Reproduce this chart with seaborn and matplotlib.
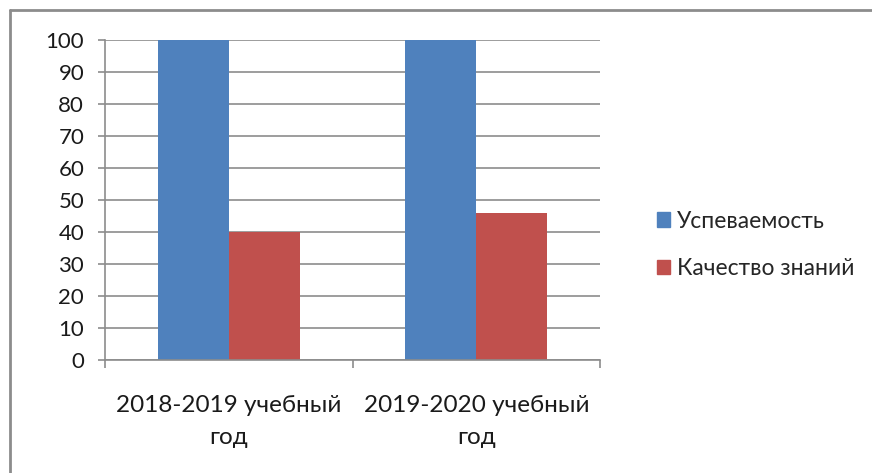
import pandas as pd
import numpy as np
import matplotlib.pyplot as plt
import seaborn as sns

# data
years = ["2018-2019 учебный\nгод", "2019-2020 учебный\nгод"]
uspev = [100, 100]
kachestvo = [40, 46]
series = ["Успеваемость", "Качество знаний"]
colors = ["#4F81BD", "#C0504D"]

df = pd.DataFrame({
    "year": years * 2,
    "value": uspev + kachestvo,
    "series": [series[0]] * 2 + [series[1]] * 2,
})

sns.set_style("white")
plt.rcParams['font.family'] = ['Lato', 'DejaVu Sans']

fig = plt.figure(figsize=(8.72, 4.73), dpi=100)
ax = fig.add_axes([105 / 872, 1 - 360 / 473, 495 / 872, 320 / 473])

sns.barplot(data=df, x="year", y="value", hue="series", palette=colors,
            width=0.575, saturation=1, ax=ax, edgecolor="none", legend=False)

ax.set_xlim(-0.5, 1.5)
ax.set_ylim(0, 100)
ax.set_yticks(np.arange(0, 101, 10))
ax.yaxis.grid(True, color="#8c8c8c", linewidth=1.2)
ax.set_axisbelow(True)
ax.set_xlabel("")
ax.set_ylabel("")

for s in ["top", "right"]:
    ax.spines[s].set_visible(False)
for s in ["left", "bottom"]:
    ax.spines[s].set_color("#8c8c8c")
    ax.spines[s].set_linewidth(1.2)

ax.tick_params(axis="y", labelsize=16, length=5, width=1.2, color="#8c8c8c",
               left=True, pad=10, labelcolor="#1a1a1a")
ax.tick_params(axis="x", labelsize=17.5, length=0, pad=25, labelcolor="#1a1a1a")
ax.set_xticks([-0.5, 0.5, 1.5], minor=True)
ax.tick_params(axis="x", which="minor", length=6, width=1.2, color="#8c8c8c", bottom=True)
for lbl in ax.get_xticklabels():
    lbl.set_linespacing(1.65)

# legend
handles = [plt.Rectangle((0, 0), 1, 1, color=c) for c in colors]
fig.legend(handles, series, loc="center left", bbox_to_anchor=(636 / 872, 1 - 245 / 473),
           frameon=False, fontsize=16.5, handlelength=0.6, handleheight=0.6,
           handletextpad=0.3, labelspacing=1.15)

# outer chart border (left and top visible)
fig.add_artist(plt.Line2D([10 / 872, 10 / 872], [0, 1 - 10 / 473], transform=fig.transFigure,
                          color="#8c8c8c", linewidth=2))
fig.add_artist(plt.Line2D([10 / 872, 1], [1 - 10 / 473, 1 - 10 / 473], transform=fig.transFigure,
                          color="#8c8c8c", linewidth=2))

fig.savefig("out.png", dpi=100)
